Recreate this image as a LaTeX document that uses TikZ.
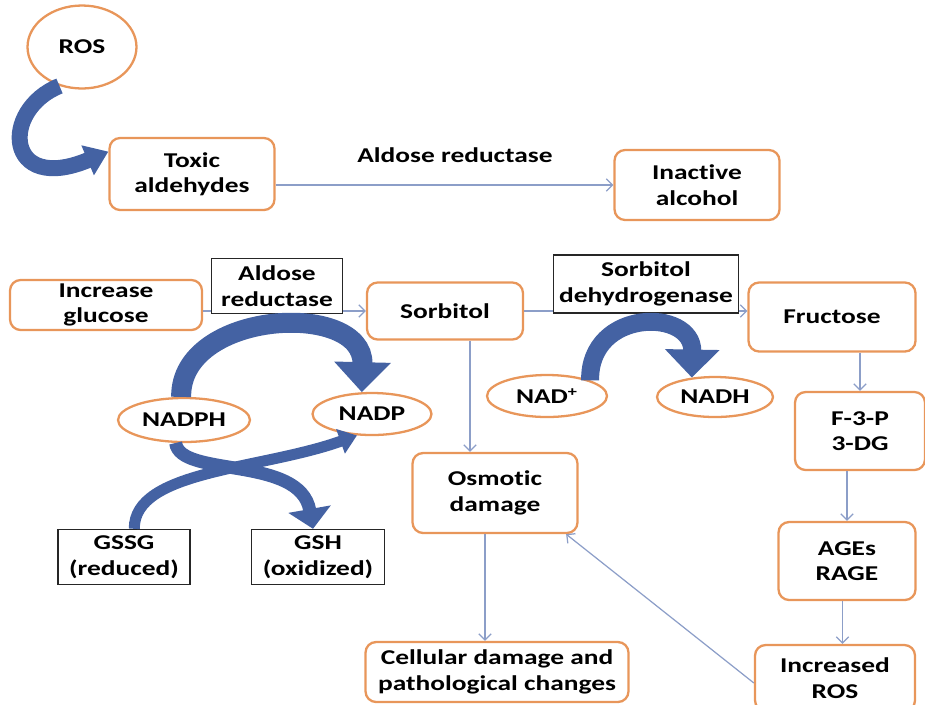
\documentclass[tikz,border=0pt]{standalone}
\usepackage{fontspec}
\setmainfont{Carlito}[FakeStretch=1.3,RawFeature={-liga;-clig;-calt;-dlig}]
\usetikzlibrary{arrows.meta,shapes.geometric}

\definecolor{boxorange}{RGB}{232,150,90}
\definecolor{arrowblue}{RGB}{68,98,163}
\definecolor{linkblue}{RGB}{140,158,200}

\begin{document}
\begin{tikzpicture}[x=0.02cm,y=-0.02cm,
    font=\fontsize{12}{14.5}\selectfont\bfseries,
    box/.style={draw=boxorange,line width=1.3pt,rounded corners=6pt,fill=white,align=center,inner sep=2pt},
    oval/.style={draw=boxorange,line width=1.3pt,ellipse,fill=white,inner sep=0pt},
    enzyme/.style={draw=black!85,line width=0.8pt,fill=white,align=center,inner sep=2pt},
    link/.style={draw=linkblue,line width=0.7pt,-{Straight Barb[length=3.5pt,width=7pt]}},
    bigarrow/.style n args={3}{draw=arrowblue,line width=#1,-{Triangle[width=#2,length=#3]}}]

    \useasboundingbox (0,0) rectangle (925,704);

    \node[oval,minimum width=2.18cm,minimum height=1.66cm] (ROS) at (82,47) {ROS};
    \node[box,minimum width=3.3cm,minimum height=1.44cm] (Toxic) at (192,174) {Toxic\\aldehydes};
    \node[box,minimum width=3.3cm,minimum height=1.4cm] (Inactive) at (697,185) {Inactive\\alcohol};
    \node (ARlabel) at (455,155) {Aldose reductase};

    \node[box,minimum width=3.84cm,minimum height=1.0cm] (Glucose) at (106,305) {Increase\\glucose};
    \node[box,minimum width=3.12cm,minimum height=1.14cm] (Sorbitol) at (445,311) {Sorbitol};
    \node[box,minimum width=3.34cm,minimum height=1.38cm] (Fructose) at (832,317) {Fructose};

    \node[oval,minimum width=2.64cm,minimum height=0.88cm] (NADPH) at (184,420) {NADPH};
    \node[oval,minimum width=2.38cm,minimum height=0.84cm] (NADP) at (372,414) {NADP};
    \node[oval,minimum width=2.4cm,minimum height=0.84cm] (NAD) at (547,396) {NAD\textsuperscript{+}};
    \node[oval,minimum width=2.32cm,minimum height=0.8cm] (NADH) at (715,397) {NADH};

    \node[box,minimum width=2.6cm,minimum height=1.56cm] (F3P) at (860,431) {F-3-P\\3-DG};
    \node[box,minimum width=3.3cm,minimum height=1.6cm] (Osmotic) at (495,493) {Osmotic\\damage};
    \node[enzyme,minimum width=2.64cm,minimum height=1.1cm] (GSSG) at (124,557) {GSSG\\(reduced)};
    \node[enzyme,minimum width=2.66cm,minimum height=1.1cm] (GSH) at (318,557) {GSH\\(oxidized)};
    \node[box,minimum width=2.74cm,minimum height=1.56cm] (AGEs) at (847,561) {AGEs\\RAGE};
    \node[box,minimum width=5.26cm,minimum height=1.2cm] (Cellular) at (497,672) {Cellular damage and\\pathological changes};
    \node[box,minimum width=3.2cm,minimum height=1.32cm] (IncROS) at (835,678) {Increased\\ROS};

    \path (Toxic.east |- Inactive.west) edge[link] (Inactive.west);
    \path (Glucose.east |- Sorbitol.west) edge[link] (Sorbitol.west);
    \path (Sorbitol.east) edge[link] (Sorbitol.east -| Fructose.west);
    \path ([xshift=0.5cm]Sorbitol.south) edge[link] ([xshift=0.5cm]Sorbitol.south |- Osmotic.north);
    \path ([xshift=-0.2cm]Osmotic.south) edge[link] ([xshift=-0.2cm]Osmotic.south |- Cellular.north);
    \path (F3P.north |- Fructose.south) edge[link] (F3P.north);
    \path (AGEs.north |- F3P.south) edge[link] (AGEs.north);
    \path ([xshift=0.15cm]IncROS.north |- AGEs.south) edge[link] ([xshift=0.15cm]IncROS.north);
    \path ([yshift=-0.1cm]IncROS.west) edge[link] ([xshift=-0.25cm]Osmotic.south east);

    \node[enzyme,minimum width=2.62cm,minimum height=1.1cm] (AR) at (277,286) {Aldose\\reductase};
    \node[enzyme,minimum width=3.7cm,minimum height=1.16cm] (SDH) at (646,284) {Sorbitol\\dehydrogenase};

    \draw[bigarrow={0.32cm}{0.62cm}{0.45cm}] (ROS.240) .. controls (0,110) and (5,195) .. (Toxic.165);
    \draw[bigarrow={0.4cm}{1.1cm}{0.6cm}] (NADPH.97) .. controls (180,310) and (364,300) .. (NADP.115);
    \draw[bigarrow={0.36cm}{1.06cm}{0.56cm}] (NAD.20) .. controls (589,308) and (693,308) .. (NADH.140);
    \draw[bigarrow={0.22cm}{0.5cm}{0.35cm}] (GSSG.70) .. controls (134,470) and (260,470) .. (NADP.235);
    \draw[bigarrow={0.26cm}{0.84cm}{0.4cm}] (NADPH.250) .. controls (180,478) and (300,455) .. (GSH.100);

\end{tikzpicture}
\end{document}
